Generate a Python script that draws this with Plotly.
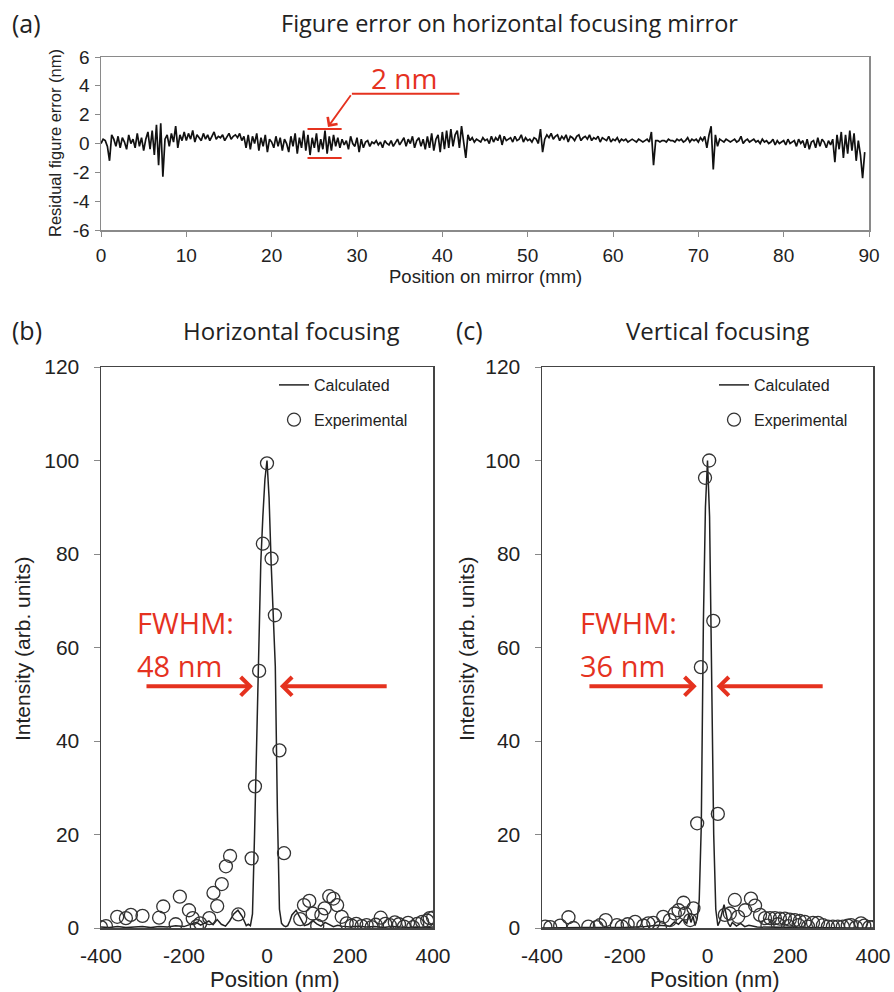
import plotly.graph_objects as go

W, H = 894, 992
def px(x):
    return x / W
def py(y):
    return 1 - y / H

# ---------------- Panel (a): residual figure error ----------------
residual_nm = [
    0.0, 0.3, 0.2, -0.2, -1.2, 0.6, 0.3, -0.2,
    0.5, -0.3, 0.4, 0.1, -0.4, 0.6, 0.0, 0.3,
    -0.3, 0.7, -0.2, 0.4, -0.5, 0.3, 0.8, -0.4,
    0.9, -0.8, 1.3, -1.5, 1.4, -2.3, 0.3, 0.6,
    -0.2, 0.7, 0.1, 1.2, -0.3, 0.6, 0.2, 0.8,
    0.2, 0.7, 0.3, 0.9, 0.1, 0.6, 0.4, 0.2,
    0.7, 0.3, 0.6, 0.2, 0.5, 0.8, 0.3, 0.5,
    0.4, 0.6, 0.2, 0.5, 0.7, 0.3, 0.5, 0.6,
    0.4, 0.7, 0.2, 0.5, -0.3, 0.6, -0.4, 0.5,
    0.0, 0.7, -0.5, 0.4, -0.2, 0.6, -0.6, 0.3,
    0.1, -0.3, 0.5, -0.2, 0.4, -0.5, 0.3, 0.0,
    -0.6, 0.5, -0.2, 0.7, -0.7, 0.4, -0.3, 0.9,
    -0.5, 0.6, -0.8, 0.4, -0.3, 0.7, -0.6, 0.3,
    -0.4, 0.9, -0.7, 0.5, -0.5, 0.6, -0.2, 0.4,
    -0.3, 0.3, -0.1, 0.2, -0.4, 0.5, 0.0, -0.2,
    0.4, -0.6, 0.3, -0.3, 0.1, 0.2, -0.2, 0.1,
    0.0, 0.2, -0.1, 0.1, -0.3, 0.2, 0.0, -0.1,
    0.2, -0.2, 0.1, 0.3, -0.1, 0.2, 0.4, -0.2,
    0.3, 0.0, 0.5, -0.3, 0.2, 0.4, -0.2, 0.3,
    -0.4, 0.5, -0.3, 0.7, -0.5, 0.3, 0.6, -0.6,
    0.8, -0.4, 0.9, -0.3, 1.0, -0.2, 0.6, 0.9,
    -0.3, 1.2, 0.2, -1.0, 0.6, 0.2, 0.4, 0.1,
    0.3, 0.2, 0.1, 0.4, 0.2, 0.3, 0.0, 0.5,
    0.1, 0.4, 0.2, 0.6, -0.1, 0.5, 0.2, 0.3,
    0.4, 0.1, 0.5, 0.2, 0.3, 0.6, 0.1, 0.4,
    0.2, 0.3, 0.1, 0.4, 0.3, 0.0, 1.0, -0.6,
    0.3, 0.6, 0.4, 0.7, 0.3, 0.5, 0.6, 0.2,
    0.5, 0.3, 0.6, 0.1, 0.5, 0.4, 0.2, 0.5,
    0.6, 0.2, 0.4, 0.5, 0.3, 0.6, 0.2, 0.4,
    0.3, 0.5, 0.1, 0.4, 0.3, 0.2, 0.5, 0.1,
    0.3, 0.2, 0.4, 0.1, 0.3, 0.2, 0.3, 0.1,
    0.2, 0.3, 0.2, 0.1, 0.3, 0.2, 0.1, 0.2,
    0.3, 0.1, 0.8, -1.5, 0.2, 0.2, 0.1, 0.2,
    0.2, 0.1, 0.3, 0.2, 0.2, 0.1, 0.3, 0.2,
    0.3, 0.1, 0.2, 0.4, 0.1, 0.3, 0.2, 0.3,
    0.1, 0.4, 0.2, 0.5, -0.3, 0.6, 1.2, -1.8,
    0.6, -0.2, 0.3, 0.2, 0.1, 0.3, 0.2, 0.1,
    0.2, 0.3, 0.1, 0.2, 0.5, 0.0, 0.2, 0.3,
    0.1, 0.2, 0.3, 0.1, 0.2, 0.0, 0.3, 0.1,
    0.2, 0.0, 0.1, 0.3, -0.1, 0.2, 0.0, 0.1,
    0.2, -0.1, 0.3, 0.0, 0.1, 0.2, -0.2, 0.3,
    0.0, 0.2, -0.3, 0.3, -0.4, 0.1, 0.2, -0.3,
    0.4, -0.2, 0.3, 0.1, -0.3, 0.2, -0.1, 0.3,
    -1.3, 0.6, -0.4, 0.8, -1.0, 0.6, -0.7, 0.9,
    -0.5, 0.7, -1.2, 0.2, -0.8, -2.4, -0.6,
]
position_step_mm = 0.25
mirror_position_mm = [round(i * position_step_mm, 2) for i in range(len(residual_nm))]
a_xtick_vals = [0, 10, 20, 30, 40, 50, 60, 70, 80, 90]
a_ytick_vals = [-6, -4, -2, 0, 2, 4, 6]
a_ytick_text = ["-6", "-4", "-2", "0", "2", "4", "6"]

# ---------------- Panel (b): horizontal focusing ----------------
calc_b_x = [-400, -380, -360, -340, -320, -300, -280, -260, -240, -220, -200, -180,
            -170, -160, -150, -140, -130, -120, -110, -100, -90, -80, -70, -60, -50,
            -45, -40, -35, -30, -25, -20, -15, -10, -5, 0, 5, 10, 15, 20, 25, 30, 35,
            40, 45, 50, 55,
            60, 70, 80, 90, 100, 110, 120, 130, 140, 150, 160, 170, 180,
            200, 220, 240, 260, 280, 300, 320, 340, 360, 380, 400]
calc_b_y = [0.2, 0.1, 0.3, 0.1, 0.2, 0.3, 0.1, 0.3, 0.2, 0.5, 0.3, 0.8,
            1.2, 0.6, 1.0, 1.5, 0.7, 1.8, 0.8, 0.4, 1.5, 3.0, 3.8, 2.5, 0.5,
            0.8, 0.5, 3, 20, 40, 60, 78, 88, 96, 100, 92, 78, 68, 56, 25, 4, 1,
            0.5, 0.3, 0.5, 1.5,
            2.8, 3.8, 2.2, 0.5, 0.8, 1.6, 0.9, 0.4, 1.2, 0.8, 0.3, 0.6, 0.4,
            0.2, 0.4, 0.2, 0.3, 0.1, 0.3, 0.2, 0.1, 0.2, 0.1, 0.2]
exp_b_x = [-400, -388, -361, -340, -328, -300, -260, -250, -220, -210, -188, -179,
           -169, -161, -139, -129, -120, -109, -99, -89, -69, -37, -29, -19, -10,
           0, 11, 19, 30, 41, 80, 89, 102, 110, 121, 131, 139, 150, 160, 169, 180,
           192, 204, 215, 228, 240, 252, 262, 274, 285, 296, 308, 318, 330, 340,
           352, 362, 374, 386, 392, 400]
exp_b_y = [0.2, 0.4, 2.4, 2.1, 2.8, 2.6, 2.2, 4.6, 0.8, 6.7, 3.8, 2.1,
           0.4, 1.0, 2.1, 7.5, 4.7, 9.4, 13.2, 15.4, 2.9, 14.9, 30.3, 55.0, 82.2,
           99.4, 79.0, 66.9, 38.0, 16.0, 1.9, 4.9, 5.8, 3.1, 0.5, 2.8, 4.2, 6.8, 6.3, 4.9, 2.4,
           1.0, 0.5, 0.9, 0.4, 0.6, 0.2, 0.7, 2.2, 0.9, 0.6, 1.2, 0.8, 0.3, 1.1,
           0.2, 0.9, 1.3, 1.6, 2.1, 2.2]

# ---------------- Panel (c): vertical focusing ----------------
calc_c_x = [-400, -350, -300, -250, -200, -150, -120, -100, -90, -80, -70, -60, -50,
            -45, -40, -35, -30, -25, -20, -15, -10, -5, 0, 5, 10, 15, 20, 25, 30, 35,
            40, 45, 50, 55, 60, 70, 80, 90, 100, 120, 150, 200, 250, 300, 350, 400]
calc_c_y = [0.0, 0.1, 0.1, 0.1, 0.1, 0.3, 0.6, 0.5, 0.4, 1.3, 0.8, 1.8, 1.0,
            3.0, 1.2, 2.5, 0.5, 2, 6, 22, 65, 90, 100, 88, 58, 20, 4, 0.5, 1.5, 3.5,
            5.0, 3.0, 1.0, 0.3, 1.2, 0.4, 1.0, 0.3, 0.6, 0.2, 0.2, 0.1, 0.1, 0.05, 0.0, 0.0]
exp_c_x = [-392, -380, -356, -336, -324, -288, -268, -260, -246, -219, -207, -193,
           -175, -155, -143, -131, -115, -107, -91, -79, -70, -58, -54, -42, -34,
           -25, -16, -6, 4, 14, 25, 42, 54, 66, 74, 91, 105, 115, 127, 139, 145,
           151, 163, 170, 175, 187, 195, 199, 211, 220, 223, 235, 243, 255, 267,
           279, 291, 303, 315, 327, 339, 347, 359, 371, 379, 391, 399]
exp_c_y = [0.3, 0.2, 0.5, 2.3, 0.0, 0.3, 0.2, 0.6, 1.7, 0.6, 0.3, 0.8,
           1.3, 0.5, 1.0, 1.1, 0.1, 2.4, 1.7, 3.1, 3.8, 5.4, 3.1, 1.7, 4.2,
           22.4, 55.8, 96.3, 100, 65.7, 24.4, 2.8, 3.1, 6.0, 2.4, 3.8, 6.3, 4.8, 2.8, 2.1, 0.5,
           2.1, 2.1, 0.8, 2.0, 2.0, 0.4, 1.8, 1.7, 0.6, 1.5, 1.3, 0.3, 1.1, 1.1,
           0.6, 0.3, 0.3, 0.3, 0.3, 0.5, 0.6, 0.2, 1.0, 0.5, 0.2, 0.2]
bc_xtick_vals = [-400, -200, 0, 200, 400]
bc_xtick_text = ["-400", "-200", "0", "200", "400"]
bc_ytick_vals = [0, 20, 40, 60, 80, 100, 120]

# ---------------- Styles ----------------
RED = "#E5321F"
ARIAL = "Liberation Sans, Arial, sans-serif"
CAL = "Open Sans, Noto Sans, sans-serif"
LINE_COL = "#222222"

fig = go.Figure()

fig.add_trace(go.Scatter(x=mirror_position_mm, y=residual_nm, mode="lines",
                         line=dict(color="#111111", width=1.7),
                         xaxis="x", yaxis="y", showlegend=False))

fig.add_trace(go.Scatter(x=calc_b_x, y=calc_b_y, mode="lines", name="Calculated",
                         line=dict(color=LINE_COL, width=1.5),
                         xaxis="x2", yaxis="y2", legend="legend", legendgroup="b1"))
fig.add_trace(go.Scatter(x=exp_b_x, y=exp_b_y, mode="markers", name="Experimental",
                         marker=dict(symbol="circle-open", size=13,
                                     color="#333333", line=dict(width=1.3, color="#333333")),
                         xaxis="x2", yaxis="y2", legend="legend", legendgroup="b2"))

fig.add_trace(go.Scatter(x=calc_c_x, y=calc_c_y, mode="lines", name="Calculated",
                         line=dict(color=LINE_COL, width=1.5),
                         xaxis="x3", yaxis="y3", legend="legend2", legendgroup="c1"))
fig.add_trace(go.Scatter(x=exp_c_x, y=exp_c_y, mode="markers", name="Experimental",
                         marker=dict(symbol="circle-open", size=13,
                                     color="#333333", line=dict(width=1.3, color="#333333")),
                         xaxis="x3", yaxis="y3", legend="legend2", legendgroup="c2"))

tickfont_a = dict(family=ARIAL, size=19, color="#222")
tickfont_bc = dict(family=ARIAL, size=21, color="#222")

axis_common = dict(showgrid=False, zeroline=False, showline=True, mirror=True,
                   automargin=False)

fig.update_layout(
    width=W, height=H,
    margin=dict(l=0, r=0, t=0, b=0),
    paper_bgcolor="white", plot_bgcolor="white",
    hovermode=False,
    xaxis=dict(domain=[px(101), px(869)], range=[0, 90], tickvals=a_xtick_vals, anchor="y",
               linecolor="#8a8a8a", linewidth=1.5, ticks="outside", ticklen=5,
               tickcolor="#8a8a8a", tickfont=tickfont_a, ticklabelstandoff=3, **axis_common),
    yaxis=dict(domain=[py(230), py(57)], range=[-6, 6], tickvals=a_ytick_vals,
               ticktext=a_ytick_text, anchor="x",
               linecolor="#8a8a8a", linewidth=1.5, ticks="outside", ticklen=5,
               tickcolor="#8a8a8a", tickfont=tickfont_a, ticklabelstandoff=1, **axis_common),
    xaxis2=dict(domain=[px(101), px(433)], range=[-400, 400], tickvals=bc_xtick_vals,
                ticktext=bc_xtick_text, anchor="y2",
                linecolor="#444", linewidth=1.5, ticks="", tickfont=tickfont_bc,
                ticklabelstandoff=8, **axis_common),
    yaxis2=dict(domain=[py(928), py(367)], range=[0, 120], tickvals=bc_ytick_vals, anchor="x2",
                linecolor="#444", linewidth=1.5, ticks="outside", ticklen=6,
                tickcolor="#888", tickfont=tickfont_bc, ticklabelstandoff=10, **axis_common),
    xaxis3=dict(domain=[px(542), px(873)], range=[-400, 400], tickvals=bc_xtick_vals,
                ticktext=bc_xtick_text, anchor="y3",
                linecolor="#444", linewidth=1.5, ticks="", tickfont=tickfont_bc,
                ticklabelstandoff=8, **axis_common),
    yaxis3=dict(domain=[py(928), py(367)], range=[0, 120], tickvals=bc_ytick_vals, anchor="x3",
                linecolor="#444", linewidth=1.5, ticks="outside", ticklen=6,
                tickcolor="#888", tickfont=tickfont_bc, ticklabelstandoff=10, **axis_common),
    legend=dict(x=px(274), y=py(368), xanchor="left", yanchor="top",
                font=dict(family=ARIAL, size=16, color="#222"),
                bgcolor="rgba(0,0,0,0)", tracegroupgap=11),
    legend2=dict(x=px(714), y=py(368), xanchor="left", yanchor="top",
                 font=dict(family=ARIAL, size=16, color="#222"),
                 bgcolor="rgba(0,0,0,0)", tracegroupgap=11),
)

ann = []
def text(x, y, s, size, family=CAL, color="#222", xanchor="left", angle=0):
    ann.append(dict(x=px(x), y=py(y), xref="paper", yref="paper", text=s,
                    showarrow=False, xanchor=xanchor, yanchor="middle",
                    textangle=angle, font=dict(family=family, size=size, color=color)))

# panel labels and titles
text(10, 23, "(a)", 25)
text(509, 23, "Figure error on horizontal focusing mirror", 23.5, xanchor="center")
text(10, 330, "(b)", 25)
text(291, 330, "Horizontal focusing", 24, xanchor="center")
text(454, 330, "(c)", 25)
text(717, 330, "Vertical focusing", 24, xanchor="center")

# axis titles
text(55, 143, "Residual figure error (nm)", 16.5, family=ARIAL, xanchor="center", angle=-90)
text(485, 276, "Position on mirror (mm)", 18.5, family=ARIAL, xanchor="center")
text(22, 649, "Intensity (arb. units)", 21, family=ARIAL, xanchor="center", angle=-90)
text(466, 649, "Intensity (arb. units)", 21, family=ARIAL, xanchor="center", angle=-90)
text(275, 979, "Position (nm)", 22, family=ARIAL, xanchor="center")
text(715, 979, "Position (nm)", 22, family=ARIAL, xanchor="center")

# red annotations
text(404, 78, "2 nm", 28, color=RED, xanchor="center")
text(135, 622, "FWHM:", 29, color=RED)
text(135, 665, "48 nm", 29, color=RED)
text(578, 622, "FWHM:", 29, color=RED)
text(578, 665, "36 nm", 29, color=RED)

def arrow(xref, yref, tip, tail, width, size, head=4):
    ann.append(dict(x=tip[0], y=tip[1], ax=tail[0], ay=tail[1], xref=xref, yref=yref,
                    axref=xref, ayref=yref, showarrow=True, arrowhead=head,
                    arrowsize=size, arrowwidth=width, arrowcolor=RED, text=""))

FWHM_LEVEL = 51.7
arrow("x2", "y2", (-34, FWHM_LEVEL), (-294, FWHM_LEVEL), 4, 0.9)
arrow("x2", "y2", (31, FWHM_LEVEL), (292, FWHM_LEVEL), 4, 0.9)
arrow("x3", "y3", (-26, FWHM_LEVEL), (-289, FWHM_LEVEL), 4, 0.9)
arrow("x3", "y3", (22, FWHM_LEVEL), (282, FWHM_LEVEL), 4, 0.9)
arrow("x", "y", (26.6, 1.15), (29.4, 3.45), 1.8, 1.3)

fig.update_layout(annotations=ann)

shapes = []
for yv in (1, -1):
    shapes.append(dict(type="line", xref="x", yref="y", x0=24.2, x1=28.2, y0=yv, y1=yv,
                       line=dict(color=RED, width=2)))
shapes.append(dict(type="line", xref="x", yref="y", x0=29.4, x1=42.0, y0=3.45, y1=3.45,
                   line=dict(color=RED, width=2)))
fig.update_layout(shapes=shapes)

# Remove the page's default body margin so the figure fills the window exactly.
page_fix = ("document.body.style.margin='0';"
            "document.body.style.overflow='hidden';"
            "document.documentElement.style.overflow='hidden';")
fig.write_html("out.html", post_script=page_fix,
               config={"displayModeBar": False, "staticPlot": True})
